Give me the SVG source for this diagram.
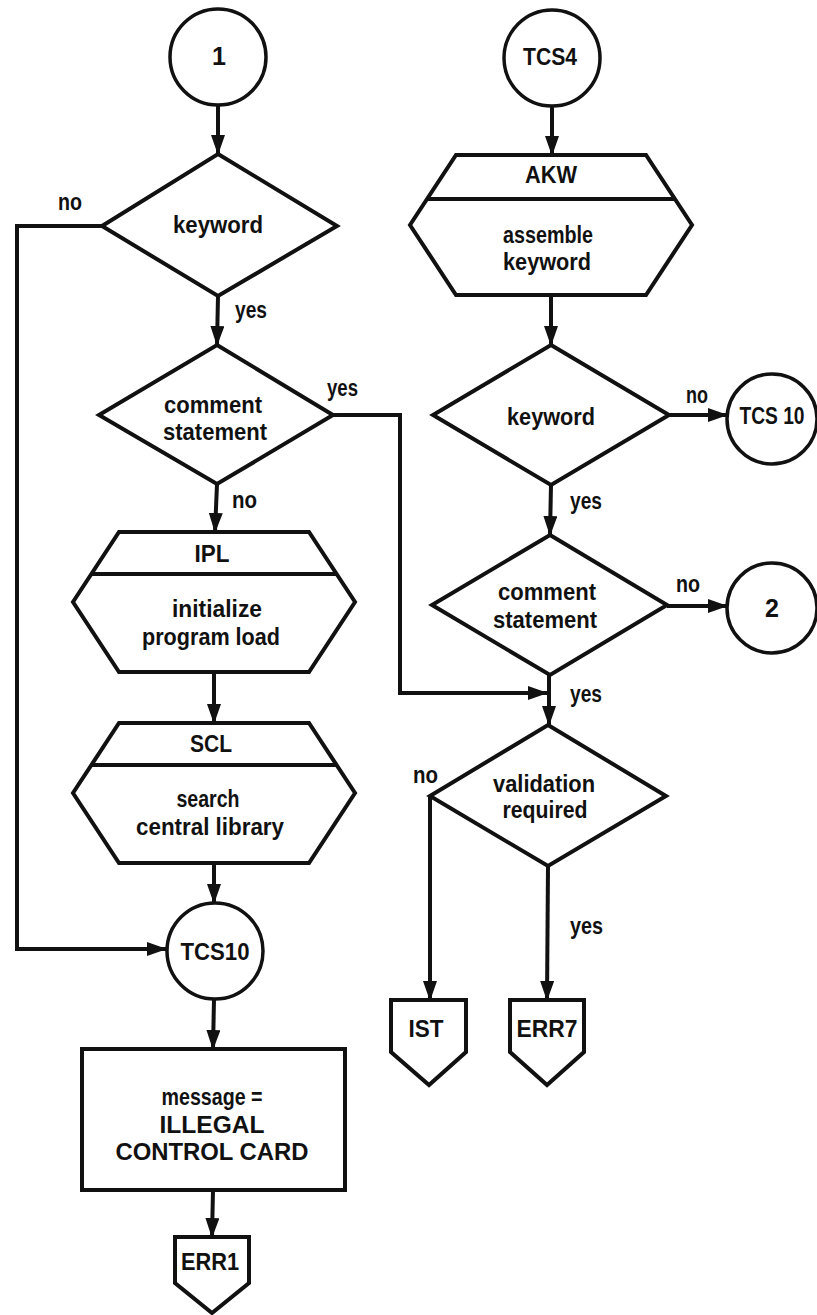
<svg xmlns="http://www.w3.org/2000/svg" width="817" height="1315" viewBox="0 0 817 1315">
  <style>
    .shape { fill: #fff; stroke: #111; stroke-width: 4; stroke-linejoin: miter; }
    .circ { fill: #fff; stroke: #111; stroke-width: 3.5; }
    .div { stroke: #111; stroke-width: 4; fill: none; }
    .conn { fill: none; stroke: #111; stroke-width: 4; stroke-linejoin: miter; }
    text { font-family: "Liberation Sans", Arial, sans-serif; font-weight: bold; font-size: 24px; fill: #111; }
    .c { text-anchor: middle; }
    .lbl { font-size: 23px; }
  </style>
  <defs>
    <marker id="arrow" markerUnits="userSpaceOnUse" markerWidth="20" markerHeight="14" refX="19" refY="7" orient="auto">
      <path d="M0,0 L20,7 L0,14 Z" fill="#111"/>
    </marker>
  </defs>

  <rect width="817" height="1315" fill="#fff"/>

  <!-- connectors -->
  <g id="connectors">
    <line class="conn" x1="218" y1="105" x2="218" y2="154" marker-end="url(#arrow)"/>
    <polyline class="conn" points="102,226 17,226 17,949 166,949" marker-end="url(#arrow)"/>
    <line class="conn" x1="218" y1="296" x2="217" y2="345" marker-end="url(#arrow)"/>
    <polyline class="conn" points="333,415 400,415 400,693 547,693" marker-end="url(#arrow)"/>
    <line class="conn" x1="217" y1="484" x2="215" y2="532" marker-end="url(#arrow)"/>
    <line class="conn" x1="214" y1="672" x2="214" y2="723" marker-end="url(#arrow)"/>
    <line class="conn" x1="214" y1="863" x2="214" y2="903" marker-end="url(#arrow)"/>
    <line class="conn" x1="214" y1="999" x2="213" y2="1049" marker-end="url(#arrow)"/>
    <line class="conn" x1="213" y1="1190" x2="212" y2="1237" marker-end="url(#arrow)"/>

    <line class="conn" x1="552" y1="106" x2="552" y2="155" marker-end="url(#arrow)"/>
    <line class="conn" x1="551" y1="295" x2="551" y2="345" marker-end="url(#arrow)"/>
    <line class="conn" x1="669" y1="415" x2="727" y2="415" marker-end="url(#arrow)"/>
    <line class="conn" x1="551" y1="485" x2="550" y2="535" marker-end="url(#arrow)"/>
    <line class="conn" x1="667" y1="606" x2="727" y2="606" marker-end="url(#arrow)"/>
    <line class="conn" x1="549" y1="675" x2="549" y2="725" marker-end="url(#arrow)"/>
    <line class="conn" x1="430" y1="796" x2="430" y2="1000" marker-end="url(#arrow)"/>
    <line class="conn" x1="548" y1="866" x2="547" y2="1000" marker-end="url(#arrow)"/>

    <text class="lbl c" x="70" y="210" textLength="24" lengthAdjust="spacingAndGlyphs">no</text>
    <text class="lbl" x="235" y="318" textLength="32" lengthAdjust="spacingAndGlyphs">yes</text>
    <text class="lbl" x="327" y="396" textLength="31" lengthAdjust="spacingAndGlyphs">yes</text>
    <text class="lbl" x="232" y="508" textLength="25" lengthAdjust="spacingAndGlyphs">no</text>
    <text class="lbl" x="686" y="403" textLength="22" lengthAdjust="spacingAndGlyphs">no</text>
    <text class="lbl" x="570" y="509" textLength="32" lengthAdjust="spacingAndGlyphs">yes</text>
    <text class="lbl" x="676" y="592" textLength="24" lengthAdjust="spacingAndGlyphs">no</text>
    <text class="lbl" x="570" y="702" textLength="32" lengthAdjust="spacingAndGlyphs">yes</text>
    <text class="lbl" x="413" y="783" textLength="25" lengthAdjust="spacingAndGlyphs">no</text>
    <text class="lbl" x="570" y="934" textLength="33" lengthAdjust="spacingAndGlyphs">yes</text>
  </g>

  <!-- left column -->
  <g id="start-1">
    <circle class="circ" cx="218" cy="57" r="48"/>
    <text class="c" x="219" y="65" style="font-size:25px">1</text>
  </g>
  <g id="keyword-1">
    <polygon class="shape" points="218,154 337,226 218,296 102,226"/>
    <text class="c" x="218" y="233" textLength="90" lengthAdjust="spacingAndGlyphs">keyword</text>
  </g>
  <g id="comment-1">
    <polygon class="shape" points="217,345 333,415 217,484 99,415"/>
    <text class="c" x="213" y="413" textLength="98" lengthAdjust="spacingAndGlyphs">comment</text>
    <text class="c" x="215" y="440" textLength="104" lengthAdjust="spacingAndGlyphs">statement</text>
  </g>
  <g id="ipl">
    <path class="shape" d="M119,532 H309 L355,602 L309,672 H119 L73,602 Z"/>
    <path class="div" d="M91,574 H337"/>
    <text class="c" x="212" y="562" textLength="35" lengthAdjust="spacingAndGlyphs">IPL</text>
    <text class="c" x="217" y="617" textLength="90" lengthAdjust="spacingAndGlyphs">initialize</text>
    <text class="c" x="211" y="645" textLength="138" lengthAdjust="spacingAndGlyphs">program load</text>
  </g>
  <g id="scl">
    <path class="shape" d="M119,723 H309 L355,793 L309,863 H119 L73,793 Z"/>
    <path class="div" d="M91,765 H337"/>
    <text class="c" x="211" y="752" textLength="42" lengthAdjust="spacingAndGlyphs">SCL</text>
    <text class="c" x="208" y="807" textLength="63" lengthAdjust="spacingAndGlyphs">search</text>
    <text class="c" x="210" y="835" textLength="148" lengthAdjust="spacingAndGlyphs">central library</text>
  </g>
  <g id="tcs10-left">
    <circle class="circ" cx="215" cy="951" r="48"/>
    <text class="c" x="215" y="960" textLength="69" lengthAdjust="spacingAndGlyphs">TCS10</text>
  </g>
  <g id="message">
    <rect class="shape" x="82" y="1049" width="263" height="141"/>
    <text class="c" x="212" y="1105" textLength="101" lengthAdjust="spacingAndGlyphs">message =</text>
    <text class="c" x="212" y="1133" textLength="105" lengthAdjust="spacingAndGlyphs">ILLEGAL</text>
    <text class="c" x="212" y="1160" textLength="193" lengthAdjust="spacingAndGlyphs">CONTROL CARD</text>
  </g>
  <g id="err1">
    <path class="shape" d="M175,1237 H249 V1283 L212,1313 L175,1283 Z"/>
    <text class="c" x="210" y="1270" textLength="58" lengthAdjust="spacingAndGlyphs">ERR1</text>
  </g>

  <!-- right column -->
  <g id="tcs4">
    <circle class="circ" cx="552" cy="58" r="48"/>
    <text class="c" x="550" y="65" textLength="54" lengthAdjust="spacingAndGlyphs">TCS4</text>
  </g>
  <g id="akw">
    <path class="shape" d="M456,155 H646 L692,225 L646,295 H456 L410,225 Z"/>
    <path class="div" d="M427,199 H675"/>
    <text class="c" x="551" y="183" textLength="52" lengthAdjust="spacingAndGlyphs">AKW</text>
    <text class="c" x="548" y="243" textLength="90" lengthAdjust="spacingAndGlyphs">assemble</text>
    <text class="c" x="547" y="270" textLength="88" lengthAdjust="spacingAndGlyphs">keyword</text>
  </g>
  <g id="keyword-2">
    <polygon class="shape" points="551,345 669,415 551,485 433,415"/>
    <text class="c" x="551" y="425" textLength="88" lengthAdjust="spacingAndGlyphs">keyword</text>
  </g>
  <g id="tcs10-right">
    <circle class="circ" cx="772" cy="419" r="45"/>
    <text class="c" transform="translate(772,424) scale(0.8,1)" x="0" y="0">TCS 10</text>
  </g>
  <g id="comment-2">
    <polygon class="shape" points="550,535 667,605 550,675 432,605"/>
    <text class="c" x="547" y="600" textLength="98" lengthAdjust="spacingAndGlyphs">comment</text>
    <text class="c" x="545" y="628" textLength="104" lengthAdjust="spacingAndGlyphs">statement</text>
  </g>
  <g id="connector-2">
    <circle class="circ" cx="772" cy="608" r="45"/>
    <text class="c" x="772" y="617" style="font-size:25px">2</text>
  </g>
  <g id="validation">
    <polygon class="shape" points="548,725 666,796 548,866 430,796"/>
    <text class="c" x="544" y="792" textLength="102" lengthAdjust="spacingAndGlyphs">validation</text>
    <text class="c" x="545" y="818" textLength="85" lengthAdjust="spacingAndGlyphs">required</text>
  </g>
  <g id="ist">
    <path class="shape" d="M391,1000 H466 V1052 L429,1085 L391,1052 Z"/>
    <text class="c" x="426" y="1037" textLength="35" lengthAdjust="spacingAndGlyphs">IST</text>
  </g>
  <g id="err7">
    <path class="shape" d="M510,1000 H584 V1052 L547,1085 L510,1052 Z"/>
    <text class="c" x="547" y="1037" textLength="61" lengthAdjust="spacingAndGlyphs">ERR7</text>
  </g>
</svg>
